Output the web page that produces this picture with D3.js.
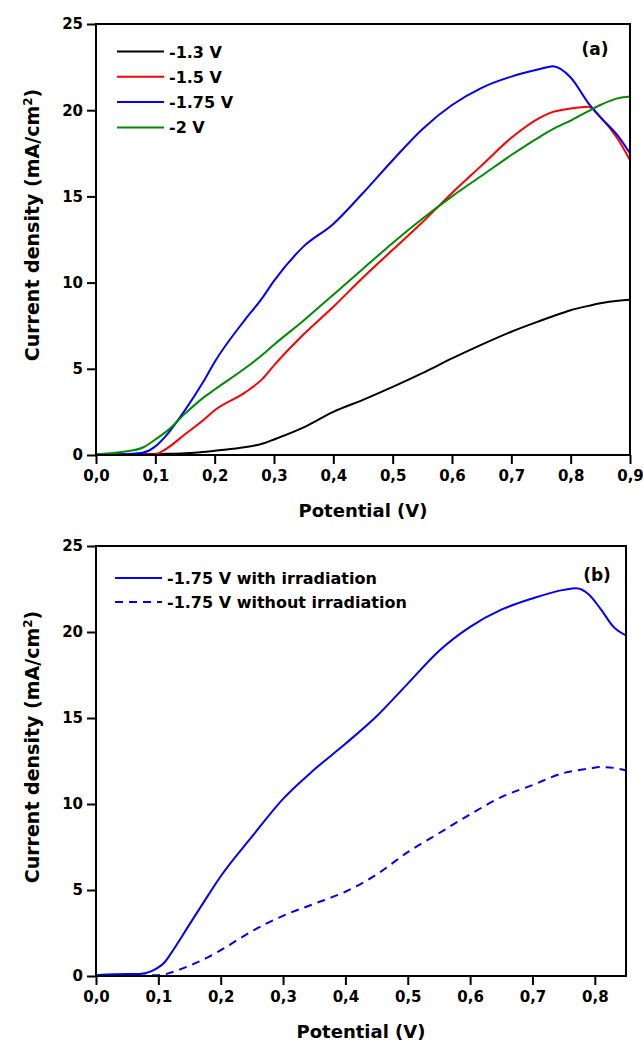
<!DOCTYPE html>
<html>
<head>
<meta charset="utf-8">
<script src="https://cdn.jsdelivr.net/npm/d3@7"></script>
<style>
  body { margin: 0; background: #fff; }
  text { font-family: "DejaVu Sans", Verdana, sans-serif; font-weight: bold; fill: #000; }
</style>
</head>
<body>
<svg id="chart" width="643" height="1044"></svg>
<script>
// ---- data, panel (a) ----
const potentialA = [0, 0.03, 0.05, 0.08, 0.1, 0.12, 0.15, 0.18, 0.2, 0.25, 0.28, 0.3, 0.35, 0.4, 0.45, 0.5, 0.55, 0.6, 0.65, 0.7, 0.75, 0.77, 0.8, 0.83, 0.85, 0.88, 0.9];
const j13 = [0.03, 0.04, 0.05, 0.05, 0.06, 0.07, 0.1, 0.17, 0.25, 0.45, 0.65, 0.9, 1.6, 2.5, 3.2, 3.95, 4.75, 5.6, 6.4, 7.15, 7.8, 8.05, 8.4, 8.65, 8.8, 8.95, 9.0];
const j15 = [0.0, 0.0, 0.0, 0.02, 0.05, 0.4, 1.2, 2.0, 2.6, 3.6, 4.4, 5.2, 7.0, 8.6, 10.3, 11.9, 13.5, 15.2, 16.8, 18.4, 19.6, 19.9, 20.1, 20.2, 19.6, 18.3, 17.1];
const j175 = [0.0, 0.02, 0.05, 0.15, 0.5, 1.2, 2.6, 4.2, 5.4, 7.8, 9.1, 10.1, 12.1, 13.4, 15.2, 17.1, 18.9, 20.3, 21.3, 21.95, 22.4, 22.55, 21.9, 20.4, 19.6, 18.5, 17.5];
const j20 = [0.05, 0.12, 0.2, 0.45, 0.9, 1.4, 2.4, 3.3, 3.8, 5.0, 5.8, 6.4, 7.8, 9.3, 10.8, 12.3, 13.7, 15.0, 16.2, 17.4, 18.5, 18.9, 19.4, 19.95, 20.3, 20.7, 20.8];
const labelsA = ["-1.3 V", "-1.5 V", "-1.75 V", "-2 V"];
const colorsA = ["#000000", "#ff0000", "#0000ff", "#008c00"];

// ---- data, panel (b) ----
const potentialB = [0, 0.03, 0.07, 0.09, 0.1, 0.11, 0.12, 0.15, 0.18, 0.2, 0.25, 0.3, 0.35, 0.4, 0.45, 0.5, 0.55, 0.6, 0.65, 0.7, 0.75, 0.77, 0.79, 0.81, 0.83, 0.85];
const jLight = [0.05, 0.1, 0.12, 0.3, 0.5, 0.8, 1.3, 3.0, 4.7, 5.8, 8.1, 10.3, 12.0, 13.5, 15.1, 17.0, 18.9, 20.3, 21.3, 21.95, 22.45, 22.55, 22.2, 21.3, 20.3, 19.8];
const jDark = [0.0, 0.0, 0.02, 0.04, 0.05, 0.1, 0.2, 0.6, 1.1, 1.5, 2.6, 3.5, 4.2, 4.9, 5.9, 7.2, 8.3, 9.4, 10.4, 11.1, 11.8, 11.95, 12.05, 12.15, 12.1, 11.95];
const labelsB = ["-1.75 V with irradiation", "-1.75 V without irradiation"];

const xTicksA = [0, 0.1, 0.2, 0.3, 0.4, 0.5, 0.6, 0.7, 0.8, 0.9];
const xTicksB = [0, 0.1, 0.2, 0.3, 0.4, 0.5, 0.6, 0.7, 0.8];
const yTicks = [0, 5, 10, 15, 20, 25];

const svg = d3.select("#chart");
const commaFmt = d => d3.format(".1f")(d).replace(".", ",");

function drawPanel(p) {
    const g = svg.append("g");
    const x = d3.scaleLinear().domain(p.xDomain).range([p.left, p.right]);
    const y = d3.scaleLinear().domain([0, 25]).range([p.bottom, p.top]);

    // series
    const line = d3.line()
        .x(d => x(d[0]))
        .y(d => y(d[1]))
        .curve(d3.curveMonotoneX);

    p.series.forEach(s => {
        g.append("path")
            .datum(p.xs.map((v, i) => [v, s.values[i]]))
            .attr("d", line)
            .attr("fill", "none")
            .attr("stroke", s.color)
            .attr("stroke-width", 2)
            .attr("stroke-dasharray", s.dash || null);
    });

    // frame
    g.append("rect")
        .attr("x", p.left).attr("y", p.top)
        .attr("width", p.right - p.left).attr("height", p.bottom - p.top)
        .attr("fill", "none").attr("stroke", "#000").attr("stroke-width", 2);

    // axes
    const xAxis = g.append("g")
        .attr("transform", `translate(0,${p.bottom})`)
        .call(d3.axisBottom(x).tickValues(p.xTicks).tickFormat(commaFmt).tickSize(9).tickPadding(6));
    const yAxis = g.append("g")
        .attr("transform", `translate(${p.left},0)`)
        .call(d3.axisLeft(y).tickValues(yTicks).tickSize(9).tickPadding(4));
    [xAxis, yAxis].forEach(a => {
        a.select(".domain").remove();
        a.selectAll(".tick line").attr("stroke", "#000").attr("stroke-width", 2);
        a.selectAll(".tick text")
            .style("font-family", "'DejaVu Sans', Verdana, sans-serif")
            .style("font-weight", "bold")
            .style("font-size", "15px")
            .attr("fill", "#000");
    });

    // axis titles
    g.append("text")
        .attr("x", (p.left + p.right) / 2)
        .attr("y", p.bottom + 62)
        .attr("text-anchor", "middle")
        .style("font-size", "18px")
        .text("Potential (V)");

    const yt = g.append("text")
        .attr("transform", `translate(39,${p.yTitleY}) rotate(-90)`)
        .attr("text-anchor", "middle")
        .style("font-size", "19px");
    yt.append("tspan").text("Current density (mA/cm");
    yt.append("tspan").attr("dy", -7).style("font-size", "12px").text("2");
    yt.append("tspan").attr("dy", 7).text(")");

    // panel tag
    g.append("text")
        .attr("x", p.tagX).attr("y", p.tagY)
        .attr("text-anchor", "middle")
        .style("font-size", "17px")
        .text(p.tag);

    // legend
    p.series.forEach((s, i) => {
        const ly = p.legendY + i * p.legendStep;
        g.append("line")
            .attr("x1", p.legendX).attr("x2", p.legendX + 47)
            .attr("y1", ly).attr("y2", ly)
            .attr("stroke", s.color).attr("stroke-width", 2)
            .attr("stroke-dasharray", s.dash || null);
        g.append("text")
            .attr("x", p.legendX + 52).attr("y", ly + 6)
            .style("font-size", "16px")
            .text(s.label);
    });
}

drawPanel({
    left: 96, right: 630, top: 24, bottom: 455,
    xDomain: [0, 0.9], xTicks: xTicksA, xs: potentialA,
    tag: "(a)", tagX: 595, tagY: 55, yTitleY: 225,
    legendX: 117, legendY: 51.5, legendStep: 25.3,
    series: [
        { values: j13, color: colorsA[0], label: labelsA[0] },
        { values: j15, color: colorsA[1], label: labelsA[1] },
        { values: j175, color: colorsA[2], label: labelsA[2] },
        { values: j20, color: colorsA[3], label: labelsA[3] }
    ]
});

drawPanel({
    left: 96, right: 626, top: 546, bottom: 976,
    xDomain: [0, 0.85], xTicks: xTicksB, xs: potentialB,
    tag: "(b)", tagX: 597, tagY: 581, yTitleY: 747,
    legendX: 115, legendY: 578, legendStep: 24,
    series: [
        { values: jLight, color: "#0000ff", label: labelsB[0] },
        { values: jDark, color: "#0000ff", label: labelsB[1], dash: "8,6" }
    ]
});
</script>
</body>
</html>
